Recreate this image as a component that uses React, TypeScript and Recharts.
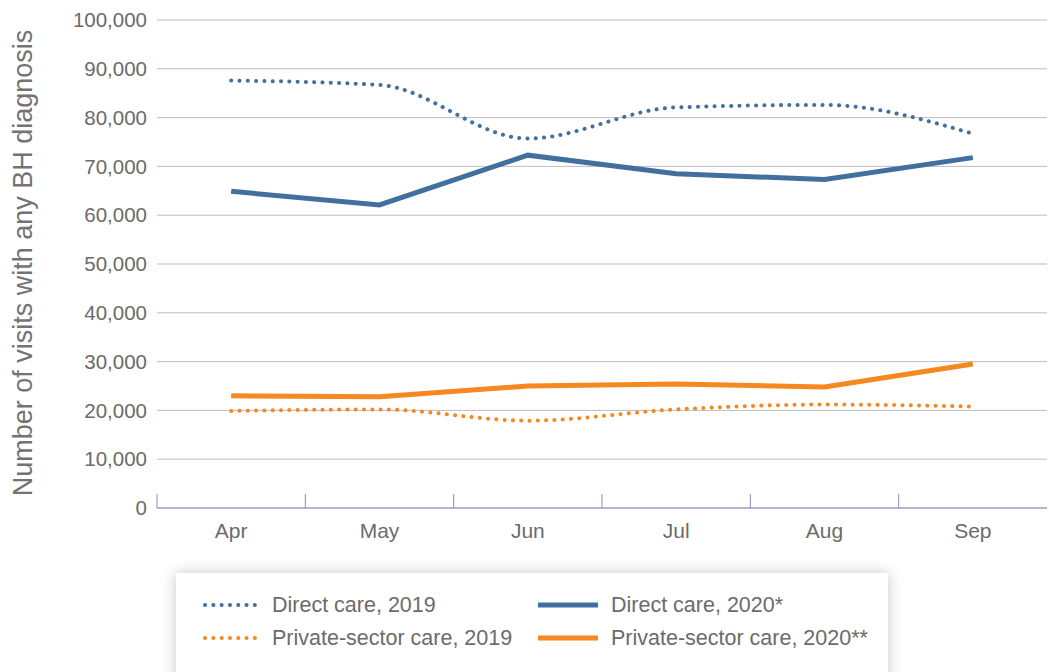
import { LineChart, Line, XAxis, YAxis, CartesianGrid } from 'recharts'

const months = ['Apr', 'May', 'Jun', 'Jul', 'Aug', 'Sep']
const direct2019 = [87600, 86700, 75700, 82100, 82600, 76700]
const direct2020 = [64900, 62100, 72300, 68500, 67300, 71800]
const private2019 = [19900, 20200, 17900, 20200, 21200, 20800]
const private2020 = [23000, 22800, 25000, 25400, 24800, 29500]
const yTicks = [0, 10000, 20000, 30000, 40000, 50000, 60000, 70000, 80000, 90000, 100000]

const BLUE = '#41709f'
const ORANGE = '#f5891f'
const TEXT = '#6b6b6b'
const AXIS = '#9a83c0'
const FONT = '"Liberation Sans", Arial, Helvetica, sans-serif'

const W = 1049
const H = 560
const LEFT = 157
const RIGHT = 2
const TOP = 20
const BOTTOM = 12
const XH = 40
const AXIS_Y = H - BOTTOM - XH
const BAND = (W - LEFT - RIGHT) / months.length

const data = months.map((m, i) => ({
  month: m,
  d19: direct2019[i],
  d20: direct2020[i],
  p19: private2019[i],
  p20: private2020[i],
}))

// category label plus an upward tick at the left edge of its band
function MonthTick(props: any) {
  const { x, y, payload } = props
  const bx = x - BAND / 2
  return (
    <g>
      <line x1={bx} x2={bx} y1={AXIS_Y - 14} y2={AXIS_Y} stroke={AXIS} strokeWidth={1} />
      <text x={x} y={y} dy={22} textAnchor="middle" fill={TEXT} fontSize={21} fontFamily={FONT}>
        {payload.value}
      </text>
    </g>
  )
}

const legendItems = [
  { label: 'Direct care, 2019', color: BLUE, dotted: true },
  { label: 'Direct care, 2020*', color: BLUE, dotted: false },
  { label: 'Private-sector care, 2019', color: ORANGE, dotted: true },
  { label: 'Private-sector care, 2020**', color: ORANGE, dotted: false },
]

export default function App() {
  return (
    <div style={{ position: 'absolute', left: 0, top: 0, width: W, height: 672, overflow: 'hidden', background: '#fff', fontFamily: FONT }}>
      <div
        style={{
          position: 'absolute',
          left: 23,
          top: 263,
          transform: 'translate(-50%, -50%) rotate(-90deg)',
          whiteSpace: 'nowrap',
          fontSize: 27,
          color: '#737373',
        }}
      >
        Number of visits with any BH diagnosis
      </div>
      <LineChart width={W} height={H} data={data} margin={{ top: TOP, right: RIGHT, bottom: BOTTOM, left: 0 }}>
        <CartesianGrid vertical={false} stroke="#bdbdbd" strokeWidth={1} />
        <XAxis
          dataKey="month"
          height={XH}
          padding={{ left: BAND / 2, right: BAND / 2 }}
          axisLine={{ stroke: AXIS, strokeWidth: 1 }}
          tickLine={false}
          tick={<MonthTick />}
          interval={0}
        />
        <YAxis
          width={LEFT}
          domain={[0, 100000]}
          ticks={yTicks}
          axisLine={false}
          tickLine={false}
          tickMargin={4}
          tickFormatter={(v: number) => v.toLocaleString('en-US')}
          tick={{ fill: TEXT, fontSize: 20.5, fontFamily: FONT }}
        />
        <Line type="monotone" dataKey="d19" stroke={BLUE} strokeWidth={4} strokeDasharray="0.1 8.2" strokeLinecap="round" dot={false} isAnimationActive={false} />
        <Line type="monotone" dataKey="p19" stroke={ORANGE} strokeWidth={4} strokeDasharray="0.1 8.2" strokeLinecap="round" dot={false} isAnimationActive={false} />
        <Line type="linear" dataKey="d20" stroke={BLUE} strokeWidth={5} dot={false} isAnimationActive={false} />
        <Line type="linear" dataKey="p20" stroke={ORANGE} strokeWidth={5} dot={false} isAnimationActive={false} />
      </LineChart>
      <div
        style={{
          position: 'absolute',
          left: 176,
          top: 573,
          width: 712,
          height: 130,
          background: '#fff',
          boxShadow: '0 0 14px rgba(0,0,0,0.22)',
        }}
      >
        {legendItems.map((it, i) => {
          const col = i % 2
          const row = Math.floor(i / 2)
          return (
            <div
              key={it.label}
              style={{
                position: 'absolute',
                left: col === 0 ? 26 : 362,
                top: 20 + row * 33,
                height: 24,
                display: 'flex',
                alignItems: 'center',
                whiteSpace: 'nowrap',
                fontSize: 21.5,
                color: TEXT,
              }}
            >
              <svg width={62} height={24} style={{ marginRight: col === 0 ? 8 : 11 }}>
                {it.dotted ? (
                  <line x1={3} x2={60} y1={12} y2={12} stroke={it.color} strokeWidth={4} strokeDasharray="0.1 8.2" strokeLinecap="round" />
                ) : (
                  <line x1={0} x2={60} y1={12} y2={12} stroke={it.color} strokeWidth={5} />
                )}
              </svg>
              <span>{it.label}</span>
            </div>
          )
        })}
      </div>
    </div>
  )
}
